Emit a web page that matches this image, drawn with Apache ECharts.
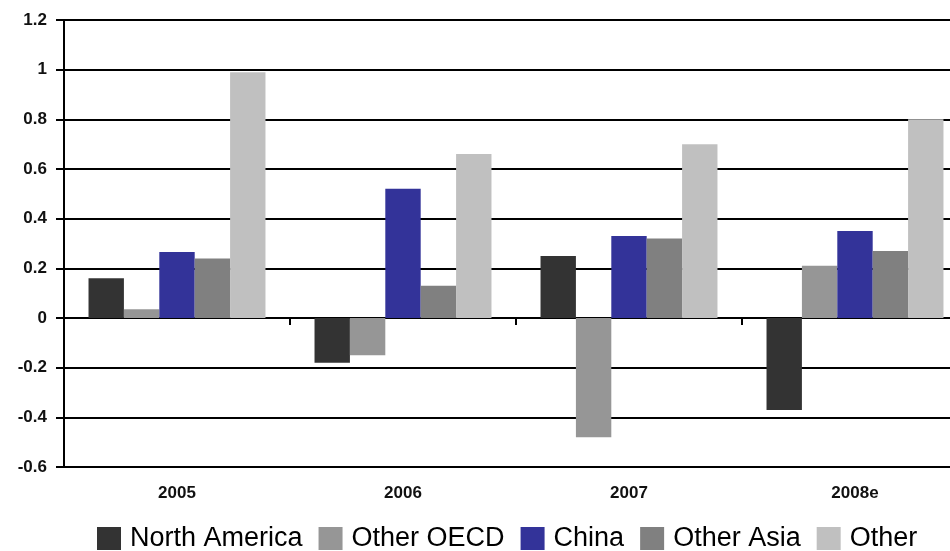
<!DOCTYPE html>
<html>
<head>
<meta charset="utf-8">
<script src="https://cdn.jsdelivr.net/npm/echarts@6/dist/echarts.min.js"></script>
<style>
  html, body { margin: 0; padding: 0; background: #ffffff; }
  #chart { width: 950px; height: 551px; }
</style>
</head>
<body>
<div id="chart"></div>
<script>
// Yearly change by region
const categories = ['2005', '2006', '2007', '2008e'];
const seriesNames = ['North America', 'Other OECD', 'China', 'Other Asia', 'Other'];
const northAmerica = [0.16, -0.18, 0.25, -0.37];
const otherOECD    = [0.035, -0.15, -0.48, 0.21];
const china        = [0.266, 0.52, 0.33, 0.35];
const otherAsia    = [0.24, 0.13, 0.32, 0.27];
const other        = [0.99, 0.66, 0.70, 0.80];
const yTicks = { min: -0.6, max: 1.2, interval: 0.2 };

const colors = ['#333333', '#969696', '#333399', '#808080', '#c0c0c0'];
const values = [northAmerica, otherOECD, china, otherAsia, other];

const labelFont = "'Liberation Sans', Arial, sans-serif";

const chart = echarts.init(document.getElementById('chart'), null, { renderer: 'canvas' });

chart.setOption({
  animation: false,
  backgroundColor: '#ffffff',
  // the plot runs a little past the right edge of the canvas
  grid: {
    left: 64, top: 20, width: 904, height: 447,
    containLabel: false,
    outerBoundsMode: 'none'
  },
  legend: {
    left: 97,
    top: 525,
    padding: 0,
    itemWidth: 24,
    itemHeight: 23,
    itemGap: 16,
    icon: 'rect',
    data: seriesNames,
    textStyle: {
      fontFamily: labelFont,
      fontSize: 27,
      color: '#000000',
      padding: [0, 0, 0, 4]
    }
  },
  xAxis: [
    {
      // zero line with category dividers
      type: 'category',
      data: categories,
      axisLine: { onZero: true, lineStyle: { color: '#000000', width: 2 } },
      axisTick: { show: true, length: 7, lineStyle: { color: '#000000', width: 2 } },
      axisLabel: { show: false },
      splitLine: { show: false }
    },
    {
      // category names along the bottom edge
      type: 'category',
      data: categories,
      position: 'bottom',
      axisLine: { show: false, onZero: false },
      axisTick: { show: false },
      axisLabel: {
        margin: 18,
        fontFamily: labelFont,
        fontWeight: 'bold',
        fontSize: 17,
        color: '#111111'
      }
    }
  ],
  yAxis: {
    type: 'value',
    min: yTicks.min,
    max: yTicks.max,
    interval: yTicks.interval,
    axisLine: { show: true, lineStyle: { color: '#000000', width: 2 } },
    axisTick: { show: true, length: 8, lineStyle: { color: '#000000', width: 2 } },
    axisLabel: {
      margin: 17,
      fontFamily: labelFont,
      fontWeight: 'bold',
      fontSize: 17,
      color: '#111111',
      formatter: v => String(Math.round(v * 10) / 10)
    },
    splitLine: { show: true, lineStyle: { color: '#000000', width: 2 } }
  },
  series: seriesNames.map((name, i) => ({
    name: name,
    type: 'bar',
    xAxisIndex: 0,
    data: values[i],
    barGap: '0%',
    barCategoryGap: '21.7%',
    itemStyle: { color: colors[i] }
  }))
});
</script>
</body>
</html>
